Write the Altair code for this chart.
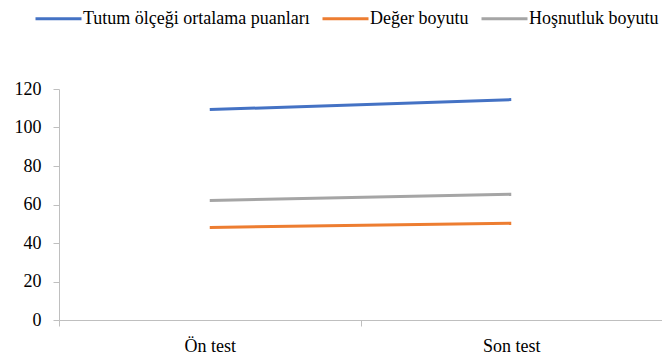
import altair as alt
import pandas as pd

tests = ["Ön test", "Son test"]
series = ["Tutum ölçeği ortalama puanları", "Değer boyutu", "Hoşnutluk boyutu"]
tutum = [109.3, 114.5]
deger = [48.1, 50.3]
hosnutluk = [62.1, 65.3]
colors = ["#4472C4", "#ED7D31", "#A5A5A5"]

rows = []
for name, vals in zip(series, [tutum, deger, hosnutluk]):
    for t, v in zip(tests, vals):
        rows.append({"test": t, "seri": name, "deger": v})
df = pd.DataFrame(rows)

FONT = "Times New Roman"

chart = alt.Chart(df).mark_line(strokeWidth=3).encode(
    x=alt.X("test:N", bandPosition=0.5, sort=tests,
            scale=alt.Scale(type="band", paddingInner=0, paddingOuter=0),
            axis=alt.Axis(title=None, labelAngle=0, tickBand="extent", domainColor="#BFBFBF",
                          tickColor="#BFBFBF", tickSize=6, labelPadding=11, labelBaseline="top",
                          labelFont=FONT, labelFontSize=18, labelColor="#000000", grid=False)),
    y=alt.Y("deger:Q", scale=alt.Scale(domain=[0, 120], nice=False),
            axis=alt.Axis(title=None, values=[0, 20, 40, 60, 80, 100, 120], domainColor="#BFBFBF",
                          tickColor="#BFBFBF", tickSize=6, labelPadding=12,
                          labelFont=FONT, labelFontSize=18, labelColor="#000000", grid=False)),
    color=alt.Color("seri:N", sort=series,
                    scale=alt.Scale(domain=series, range=colors),
                    legend=alt.Legend(title=None, orient="none", direction="horizontal",
                                      legendX=-25, legendY=-95, symbolType="stroke",
                                      symbolSize=2116, symbolStrokeWidth=3, labelOffset=0,
                                      columnPadding=6, labelFont=FONT, labelFontSize=18,
                                      labelColor="#000000", labelLimit=400)),
).properties(
    width=603, height=231,
    autosize=alt.AutoSizeParams(type="none"),
    padding={"left": 51, "top": 81, "right": 0, "bottom": 36},
).configure_view(stroke=None)

chart.save("out.html", embed_options={"renderer": "svg", "actions": False})
